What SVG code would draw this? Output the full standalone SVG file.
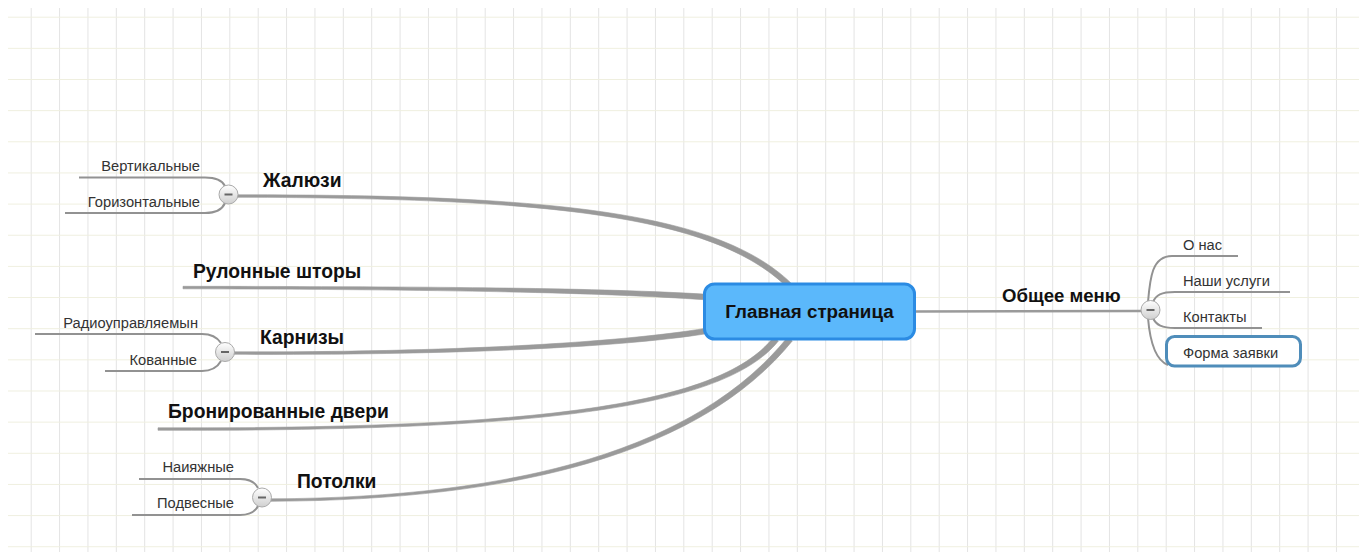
<svg xmlns="http://www.w3.org/2000/svg" width="1359" height="552" viewBox="0 0 1359 552">
<style>
.main{font-family:"Liberation Sans",Arial,sans-serif;font-weight:bold;font-size:19.3px;fill:#111}
.center{font-family:"Liberation Sans",Arial,sans-serif;font-weight:bold;font-size:18.8px;fill:#111}
.sub{font-family:"Liberation Sans",Arial,sans-serif;font-size:14.7px;fill:#333}
.thick{fill:#9a9a9a;stroke:#9a9a9a;stroke-width:0.6}
.thin{fill:none;stroke:#929292;stroke-width:2}
.tog{fill:url(#tg);stroke:#aaa;stroke-width:1}
.minus{stroke:#666;stroke-width:2}
</style>
<defs>
<pattern id="grid" patternUnits="userSpaceOnUse" x="30.7" y="16.7" width="28.375" height="31.15">
<rect x="0" y="0" width="1" height="31.15" fill="#e3e3e3"/>
<rect x="0" y="0" width="28.375" height="1" fill="#efefdf"/>
</pattern>
<linearGradient id="tg" x1="0" y1="0" x2="0" y2="1">
<stop offset="0" stop-color="#ffffff"/>
<stop offset="1" stop-color="#cfcfcf"/>
</linearGradient>
</defs>
<rect width="1359" height="552" fill="#fff"/>
<rect x="8" y="8" width="1351" height="544" fill="url(#grid)"/>

<g id="connectors">
<path class="thick" d="M238,194.8 C560,194.5 722,213 794,286 L790,290 C718,217 560,198 238,197.3 Z"/>
<path class="thick" d="M183,286.3 C450,286.6 600,288 706,294.2 L706,299.8 C600,292.5 450,289.5 183,288.8 Z"/>
<path class="thick" d="M234,351.8 C450,352.6 620,342.5 705.6,328.3 L706.4,333.7 C620,347.5 450,355.4 234,354.3 Z"/>
<path class="thick" d="M158,427.8 C520,428.8 718,408.5 773.6,337.1 L778.4,340.9 C722,411.5 520,431.2 158,430.3 Z"/>
<path class="thick" d="M271,498.8 C520,497.8 698,448 787.7,337.1 L792.3,340.9 C702,452 520,500.2 271,501.3 Z"/>
<path d="M914,311.5 L1142,311" fill="none" stroke="#9a9a9a" stroke-width="2.5"/>
<path class="thin" d="M79,177.5 L205,177.5 C215,177.5 222,180 225,186"/>
<path class="thin" d="M65,213 L205,213 C215,213 222,210 225,203"/>
<path class="thin" d="M35,334 L202,334 C210,334 217,337 221,343"/>
<path class="thin" d="M105,371 L202,371 C210,371 217,368 221,361"/>
<path class="thin" d="M139,479 L240,479 C248,479 255,482 258,488"/>
<path class="thin" d="M132,515 L240,515 C248,515 255,512 258,506"/>
<path class="thin" d="M1148,302 C1150,278 1152,256 1172,256 L1238,256"/>
<path class="thin" d="M1153,302 C1156,295 1161,292 1175,292 L1290,292"/>
<path class="thin" d="M1153,318 C1156,325 1162,328 1175,328 L1262,328"/>
<path class="thin" d="M1148,318 C1150,342 1155,360 1168,365"/>
</g>

<g id="node-main">
<rect x="704.5" y="284" width="210" height="55" rx="10" fill="#5bb8fb" stroke="#2b8be3" stroke-width="3"/>
<text class="center" x="809.5" y="318" text-anchor="middle">Главная страница</text>
</g>

<g id="node-zhalyuzi">
<text class="main" x="263" y="187">Жалюзи</text>
<circle class="tog" cx="228.5" cy="194.5" r="9.5"/>
<line class="minus" x1="224.5" y1="194.5" x2="232.5" y2="194.5"/>
</g>
<g id="node-vertikalnye"><text class="sub" x="200" y="171" text-anchor="end">Вертикальные</text></g>
<g id="node-gorizontalnye"><text class="sub" x="200" y="207" text-anchor="end">Горизонтальные</text></g>

<g id="node-rulonnye"><text class="main" x="193" y="278">Рулонные шторы</text></g>

<g id="node-karnizy">
<text class="main" x="260" y="344">Карнизы</text>
<circle class="tog" cx="225" cy="352" r="9.5"/>
<line class="minus" x1="221" y1="352" x2="229" y2="352"/>
</g>
<g id="node-radio"><text class="sub" x="198" y="328" text-anchor="end">Радиоуправляемын</text></g>
<g id="node-kovannye"><text class="sub" x="197" y="365" text-anchor="end">Кованные</text></g>

<g id="node-bron"><text class="main" x="168" y="418">Бронированные двери</text></g>

<g id="node-potolki">
<text class="main" x="297" y="488">Потолки</text>
<circle class="tog" cx="262" cy="497.5" r="9.5"/>
<line class="minus" x1="258" y1="497.5" x2="266" y2="497.5"/>
</g>
<g id="node-natyazhnye"><text class="sub" x="234" y="472" text-anchor="end">Наияжные</text></g>
<g id="node-podvesnye"><text class="sub" x="234" y="508" text-anchor="end">Подвесные</text></g>

<g id="node-menu">
<text class="main" x="1002" y="302" style="font-size:18.6px">Общее меню</text>
<circle class="tog" cx="1150.5" cy="310" r="9.5"/>
<line class="minus" x1="1146.5" y1="310" x2="1154.5" y2="310"/>
</g>
<g id="node-onas"><text class="sub" x="1183" y="250">О нас</text></g>
<g id="node-uslugi"><text class="sub" x="1183" y="286">Наши услуги</text></g>
<g id="node-kontakty"><text class="sub" x="1183" y="322">Контакты</text></g>
<g id="node-forma">
<rect x="1166.5" y="336.5" width="134" height="29.5" rx="8" fill="#fff" stroke="#4f8dba" stroke-width="3"/>
<text class="sub" x="1183" y="358">Форма заявки</text>
</g>
</svg>
